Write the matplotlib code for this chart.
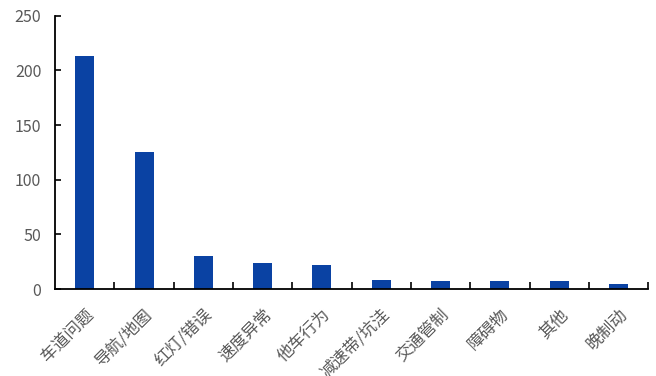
import numpy as np
import matplotlib
matplotlib.use('Agg')
import matplotlib.pyplot as plt

plt.rcParams['font.family'] = ['Noto Sans CJK SC', 'DejaVu Sans']

# 数据
categories = ['车道问题', '导航/地图', '红灯/错误', '速度异常', '他车行为',
              '减速带/坑洼', '交通管制', '障碍物', '其他', '晚制动']
counts = [213, 125, 30, 24, 22, 8, 7, 7, 7, 5]
y_ticks = [0, 50, 100, 150, 200, 250]

fig = plt.figure(figsize=(6.56, 3.76), dpi=100)
ax = fig.add_axes([0.084, 0.231, 0.904, 0.727])

x = np.arange(len(categories))
ax.bar(x, counts, width=0.32, color='#0A42A3')

ax.set_xlim(-0.5, len(categories) - 0.5)
ax.set_ylim(0, 250)
ax.set_yticks(y_ticks)
ax.set_xticks(x)
ax.set_xticklabels(categories, rotation=45, ha='right', rotation_mode='anchor')
ax.set_xticks(np.arange(0.5, len(categories), 1.0), minor=True)

ax.tick_params(axis='x', which='major', length=0, pad=12, labelsize=12, labelcolor='#595959')
ax.tick_params(axis='x', which='minor', direction='in', length=5, width=1.2, color='black')
ax.tick_params(axis='y', direction='in', length=4, width=1.2, labelsize=11.5,
               labelcolor='#595959', pad=10)

for s in ['top', 'right']:
    ax.spines[s].set_visible(False)
for s in ['left', 'bottom']:
    ax.spines[s].set_linewidth(1.3)

plt.savefig('out.png', dpi=100)
